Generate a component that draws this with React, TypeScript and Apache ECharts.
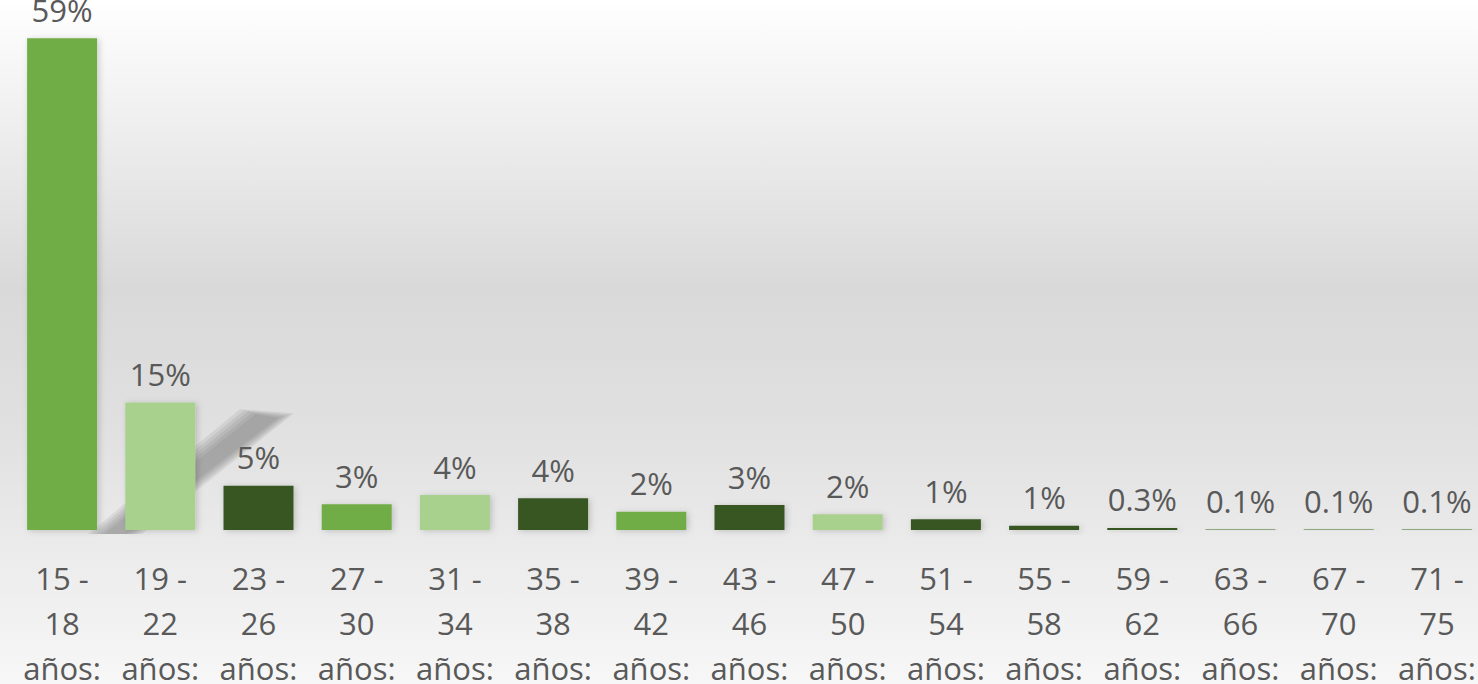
import React, { useEffect, useRef } from "react";
import * as echarts from "echarts";

const categories = [
  "15 -\n18\naños:", "19 -\n22\naños:", "23 -\n26\naños:", "27 -\n30\naños:", "31 -\n34\naños:",
  "35 -\n38\naños:", "39 -\n42\naños:", "43 -\n46\naños:", "47 -\n50\naños:", "51 -\n54\naños:",
  "55 -\n58\naños:", "59 -\n62\naños:", "63 -\n66\naños:", "67 -\n70\naños:", "71 -\n75\naños:",
];
const values = [59, 15.3, 5.3, 3.1, 4.2, 3.8, 2.2, 3.0, 1.9, 1.3, 0.5, 0.25, 0.1, 0.1, 0.1];
const valueLabels = ["59%", "15%", "5%", "3%", "4%", "4%", "2%", "3%", "2%", "1%", "1%", "0.3%", "0.1%", "0.1%", "0.1%"];
const barColors = [
  "#70AD47", "#A9D18E", "#375623", "#70AD47", "#A9D18E", "#375623", "#70AD47", "#375623",
  "#A9D18E", "#375623", "#375623", "#375623", "#8FAA7F", "#8FAA7F", "#8FAA7F",
];

export default function App() {
  const ref = useRef<HTMLDivElement>(null);
  useEffect(() => {
    if (!ref.current) return;
    const chart = echarts.init(ref.current, null, { renderer: "svg" });
    const font = "Open Sans";
    // soft diagonal shadow decoration (stacked translucent bands)
    const shadowLayers = [0, 4, 8, 12, 16].map((w) => ({
      type: "polygon",
      z: 0,
      silent: true,
      shape: {
        points: [
          [104 - w, 534],
          [126 + w, 534],
          [278 + w, 418 - w * 0.3],
          [256 - w, 414 - w * 0.3],
        ],
      },
      style: { fill: "rgba(110,110,110,0.13)" },
    }));
    chart.setOption({
      animation: false,
      backgroundColor: new echarts.graphic.LinearGradient(0, 0, 0, 1, [
        { offset: 0, color: "#ffffff" },
        { offset: 0.42, color: "#d9d9d9" },
        { offset: 0.62, color: "#e0e0e0" },
        { offset: 1, color: "#f7f7f7" },
      ]),
      grid: { left: 13, right: -8, top: 30, bottom: 154, containLabel: false, outerBoundsMode: "none" },
      xAxis: {
        type: "category",
        data: categories,
        axisLine: { show: false },
        axisTick: { show: false },
        axisLabel: {
          interval: 0,
          margin: 25,
          fontSize: 31,
          lineHeight: 45,
          color: "#595959",
          fontFamily: font,
        },
      },
      yAxis: {
        type: "value",
        min: 0,
        max: 60,
        show: false,
        splitLine: { show: false },
      },
      graphic: shadowLayers,
      series: [
        {
          type: "bar",
          z: 3,
          barWidth: 70,
          barMinHeight: 1,
          data: values.map((v, i) => ({
            value: v,
            itemStyle: {
              color: barColors[i],
              shadowBlur: 6,
              shadowColor: "rgba(0,0,0,0.18)",
              shadowOffsetX: 2,
              shadowOffsetY: 1,
            },
          })),
          label: {
            show: true,
            position: "top",
            distance: 13,
            fontSize: 31,
            color: "#595959",
            fontFamily: font,
            formatter: (p: any) => valueLabels[p.dataIndex],
          },
        },
      ],
    });
    return () => chart.dispose();
  }, []);
  return (
    <div
      ref={ref}
      style={{ position: "fixed", left: 0, top: 0, width: 1478, height: 684 }}
    />
  );
}
